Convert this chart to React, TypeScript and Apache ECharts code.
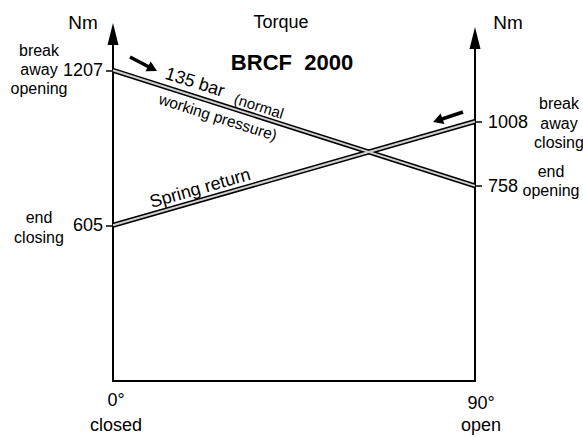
import React, { useEffect, useRef } from "react";
import * as echarts from "echarts";

const angleValues = [0, 90];
const pressureSeries = [1207, 758]; // 135 bar line: 0° -> 90°
const springSeries = [605, 1008]; // spring return: 0° -> 90°
const leftTicks = [605, 1207];
const rightTicks = [758, 1008];
const Y_MAX = 1348;

const FONT = "Liberation Sans, Arial, sans-serif";

export default function App() {
  const ref = useRef<HTMLDivElement>(null);
  useEffect(() => {
    if (!ref.current) return;
    const chart = echarts.init(ref.current, null, { renderer: "svg" });
    const pData = angleValues.map((a, i) => [a, pressureSeries[i]]);
    const sData = angleValues.map((a, i) => [a, springSeries[i]]);
    const axisLineStyle = { color: "#000", width: 2 };
    const text = (x: number, y: number, t: string, extra: any = {}, rotation = 0) => ({
      type: "text",
      x,
      y,
      rotation,
      style: {
        text: t,
        fill: "#000",
        font: `${extra.fontWeight || "normal"} ${extra.fontSize || 16}px ${FONT}`,
        textAlign: extra.align || "center",
        textVerticalAlign: "middle",
        lineHeight: extra.lineHeight,
      },
    });
    chart.setOption({
      animation: false,
      grid: { left: 113, right: 108, top: 34, bottom: 59, containLabel: false },
      xAxis: {
        type: "value",
        min: 0,
        max: 90,
        axisLine: { lineStyle: axisLineStyle },
        axisTick: { show: false },
        splitLine: { show: false },
        axisLabel: {
          customValues: angleValues,
          margin: 6,
          color: "#000",
          fontFamily: FONT,
          fontSize: 18,
          lineHeight: 25,
          formatter: (v: number) =>
            v === 0 ? "{l|0°}\n{l|closed}" : "{r1|90°}\n{r|open}",
          rich: {
            l: { fontSize: 18, lineHeight: 25, fontFamily: FONT, color: "#000", padding: [0, 0, 0, 6] },
            r1: { fontSize: 18, lineHeight: 25, fontFamily: FONT, color: "#000", padding: [7, 0, 0, 12] },
            r: { fontSize: 18, lineHeight: 25, fontFamily: FONT, color: "#000", padding: [0, 0, 0, 12] },
          },
        },
      },
      yAxis: [
        {
          type: "value",
          position: "left",
          min: 0,
          max: Y_MAX,
          axisLine: {
            show: true,
            lineStyle: axisLineStyle,
            symbol: ["none", "triangle"],
            symbolSize: [11, 22],
          },
          axisTick: { show: true, customValues: leftTicks, length: 7, lineStyle: { color: "#000", width: 1.5 } },
          axisLabel: {
            customValues: leftTicks,
            margin: 10,
            color: "#000",
            fontSize: 18,
            fontFamily: FONT,
            formatter: (v: number) => String(v),
          },
          splitLine: { show: false },
        },
        {
          type: "value",
          position: "right",
          min: 0,
          max: Y_MAX,
          axisLine: {
            show: true,
            lineStyle: axisLineStyle,
            symbol: ["none", "triangle"],
            symbolSize: [11, 22],
            symbolOffset: [0, -4],
          },
          axisTick: { show: true, customValues: rightTicks, length: 7, lineStyle: { color: "#000", width: 1.5 } },
          axisLabel: {
            customValues: rightTicks,
            margin: 13,
            color: "#000",
            fontSize: 18,
            fontFamily: FONT,
            formatter: (v: number) => String(v),
          },
          splitLine: { show: false },
        },
      ],
      series: [
        { type: "line", data: pData, symbol: "none", lineStyle: { color: "#000", width: 5, cap: "butt" }, z: 2 },
        { type: "line", data: pData, symbol: "none", lineStyle: { color: "#cfcfcf", width: 2, cap: "butt" }, z: 3 },
        { type: "line", data: sData, symbol: "none", lineStyle: { color: "#000", width: 5, cap: "butt" }, z: 2 },
        { type: "line", data: sData, symbol: "none", lineStyle: { color: "#cfcfcf", width: 2, cap: "butt" }, z: 3 },
      ],
      graphic: [
        text(83, 22, "Nm", { fontSize: 19 }),
        text(508, 22, "Nm", { fontSize: 19 }),
        text(281, 22, "Torque", { fontSize: 18 }),
        text(292, 62, "BRCF  2000", { fontSize: 22, fontWeight: "bold" }),
        text(39, 69, "break\naway\nopening", { fontSize: 16, lineHeight: 19 }),
        text(39, 227, "end\nclosing", { fontSize: 16, lineHeight: 20 }),
        text(559, 123, "break\naway\nclosing", { fontSize: 16, lineHeight: 19.5 }),
        text(551, 181, "end\nopening", { fontSize: 16, lineHeight: 19 }),
        text(195, 82, "135 bar", { fontSize: 18 }, -0.3076),
        text(259, 106, "(normal", { fontSize: 15 }, -0.3076),
        text(218, 117, "working pressure)", { fontSize: 15.5 }, -0.3076),
        text(200, 188, "Spring return", { fontSize: 18 }, 0.2794),
        { type: "line", shape: { x1: 130, y1: 57, x2: 149, y2: 67 }, style: { stroke: "#000", lineWidth: 3.5 } },
        { type: "polygon", shape: { points: [[157, 71], [145.5, 71.3], [150.7, 61.5]] }, style: { fill: "#000" } },
        { type: "line", shape: { x1: 463, y1: 112, x2: 442, y2: 119 }, style: { stroke: "#000", lineWidth: 3.5 } },
        { type: "polygon", shape: { points: [[433, 122], [440.6, 113.6], [444.4, 124]] }, style: { fill: "#000" } },
      ],
    });
    return () => chart.dispose();
  }, []);
  return <div ref={ref} style={{ width: 583, height: 440, position: "absolute", left: 0, top: 0 }} />;
}
